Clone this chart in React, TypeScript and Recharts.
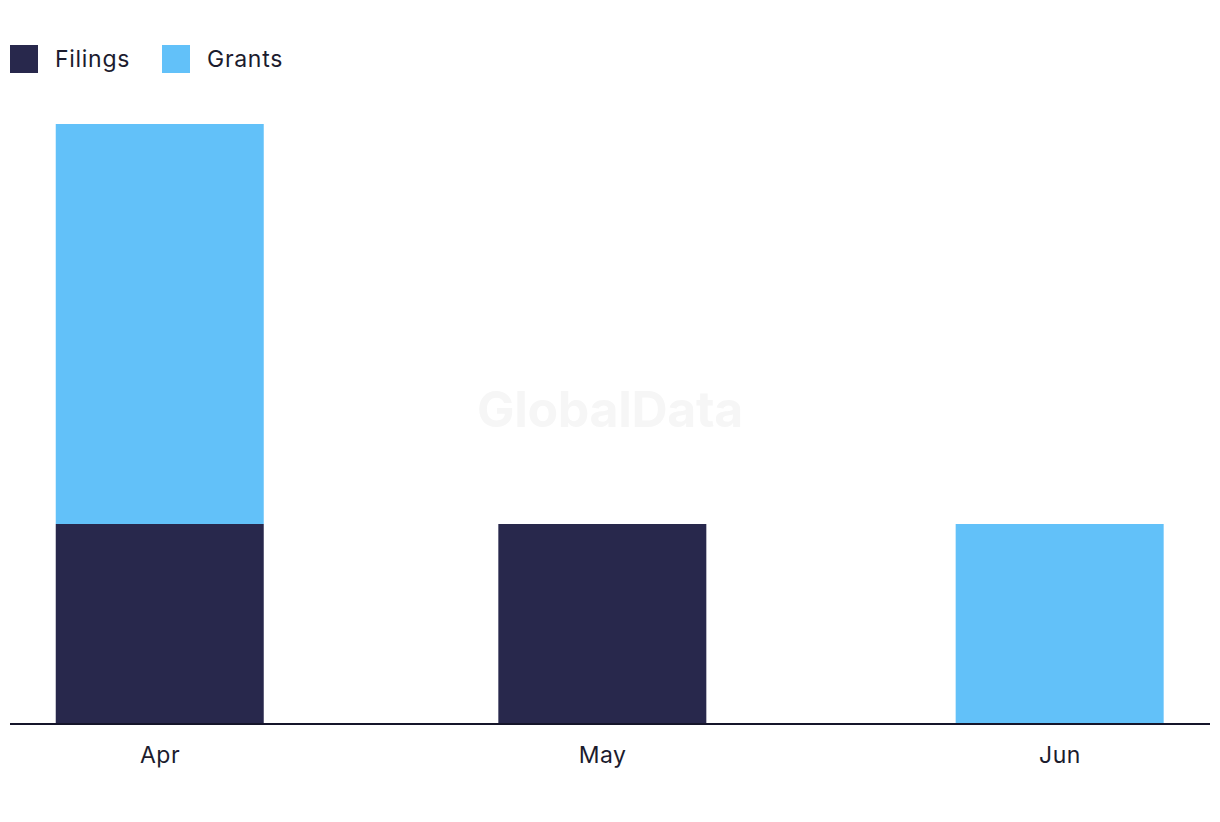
import React from "react";
import { BarChart, Bar, XAxis, YAxis } from "recharts";

const months = ["Apr", "May", "Jun"];
const monthDates = ["2024-04-01", "2024-05-01", "2024-06-01"];
const filings = [1, 1, 0];
const grants = [2, 0, 1];

const DAY = 86400000;
const times = monthDates.map((d) => Date.parse(d + "T00:00:00Z"));
const data = months.map((m, i) => ({ t: times[i], month: m, Filings: filings[i], Grants: grants[i] }));

const FONT = "Inter, 'Noto Sans', sans-serif";
const DARK = "#28284C";
const LIGHT = "#62C1F9";

const pad = 10.17 * DAY;
const domain = [times[0] - pad, times[2] + pad];

export default function App() {
  return (
    <div style={{ position: "absolute", left: 0, top: 0, width: 1220, height: 822, background: "#fff", fontFamily: FONT }}>
      <div style={{ position: "absolute", left: 10, top: 45, display: "flex", alignItems: "center", fontSize: 23, letterSpacing: 0.7, color: "#1c1c2e" }}>
        <div style={{ width: 28, height: 28, background: DARK }} />
        <span style={{ marginLeft: 17, lineHeight: "26px" }}>Filings</span>
        <div style={{ width: 28, height: 28, background: LIGHT, marginLeft: 32 }} />
        <span style={{ marginLeft: 17, lineHeight: "26px" }}>Grants</span>
      </div>
      <div style={{ position: "absolute", left: 0, width: 1220, top: 379, textAlign: "center", fontSize: 50, fontWeight: 700, color: "#f6f6f6", letterSpacing: -0.3 }}>
        GlobalData
      </div>
      <div style={{ position: "absolute", left: 0, top: 0 }}>
        <BarChart width={1220} height={822} data={data} margin={{ top: 124, right: 10, left: 10, bottom: 38 }}>
          <YAxis hide domain={[0, 3]} />
          <XAxis
            dataKey="t"
            type="number"
            scale="time"
            domain={domain}
            ticks={times}
            tickFormatter={(v: number) => months[times.indexOf(v)]}
            tickLine={false}
            axisLine={{ stroke: "#15152a", strokeWidth: 2 }}
            tick={{ fill: "#1c1c2e", fontSize: 23, fontFamily: FONT, letterSpacing: 0.5 }}
            tickMargin={17}
            height={60}
            allowDataOverflow
          />
          <Bar dataKey="Filings" stackId="a" fill={DARK} barSize={208} isAnimationActive={false} />
          <Bar dataKey="Grants" stackId="a" fill={LIGHT} barSize={208} isAnimationActive={false} />
        </BarChart>
      </div>
    </div>
  );
}
